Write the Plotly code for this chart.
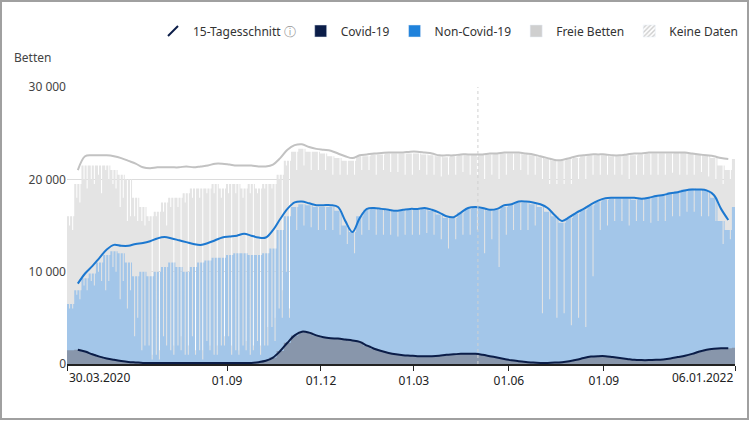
import plotly.graph_objects as go
import pandas as pd

# weekly readings (thousands of beds), week 0 starts 30.03.2020
covid_w = [1.5, 1.55, 1.35, 1.05, 0.8, 0.6, 0.45, 0.32, 0.22, 0.17,
           0.12, 0.1, 0.1, 0.1, 0.1, 0.1, 0.1, 0.1, 0.1, 0.1,
           0.1, 0.1, 0.1, 0.1, 0.1, 0.12, 0.2, 0.35, 0.7, 1.4,
           2.3, 3.1, 3.5, 3.4, 3.1, 2.9, 2.8, 2.75, 2.65, 2.55,
           2.4, 2.0, 1.65, 1.4, 1.2, 1.05, 0.95, 0.9, 0.85, 0.85,
           0.85, 0.9, 1.0, 1.05, 1.1, 1.1, 1.1, 1.0, 0.85, 0.7,
           0.55, 0.4, 0.3, 0.22, 0.15, 0.12, 0.12, 0.15, 0.2, 0.3,
           0.45, 0.65, 0.8, 0.85, 0.85, 0.75, 0.65, 0.55, 0.45, 0.42,
           0.42, 0.45, 0.5, 0.6, 0.75, 0.9, 1.1, 1.35, 1.55, 1.65,
           1.7, 1.7, 1.75]
# occupied beds (Covid + Non-Covid), typical day and weekly low day
occ_w = [6.5, 8.0, 9.3, 9.8, 11.0, 11.8, 12.2, 12.0, 11.0, 9.5,
         10.0, 9.5, 10.0, 10.5, 11.0, 10.5, 10.0, 10.5, 11.0, 11.2,
         11.5, 11.5, 11.8, 12.0, 12.0, 11.8, 11.8, 12.0, 12.5, 14.5,
         16.0, 17.0, 17.3, 17.2, 17.0, 17.0, 17.0, 16.6, 15.0, 14.3,
         16.0, 16.7, 16.8, 16.7, 16.6, 16.5, 16.6, 16.7, 16.7, 16.8,
         16.6, 16.2, 15.8, 15.8, 16.4, 16.8, 17.0, 16.8, 16.6, 16.7,
         17.0, 17.3, 17.5, 17.5, 17.3, 17.0, 16.5, 16.0, 15.3, 15.8,
         16.3, 16.7, 17.2, 17.6, 17.8, 17.9, 17.9, 17.9, 17.8, 17.9,
         18.0, 18.2, 18.3, 18.6, 18.7, 18.9, 19.0, 18.9, 18.8, 18.0,
         15.5, 14.5, 17.0]
occ_low = [6.0, 7.0, 8.0, 8.5, 9.0, 9.0, 10.0, 9.0, 8.0, 5.0,
           2.0, 0.5, 0.5, 2.0, 1.0, 1.5, 1.0, 1.0, 0.5, 1.5,
           1.0, 2.0, 1.0, 1.0, 1.5, 1.5, 1.0, 2.0, 2.5, 5.0,
           5.0, 14.5, 15.0, 14.8, 14.5, 14.5, 14.5, 14.0, 13.0, 12.0,
           14.0, 14.5, 14.0, 14.0, 14.0, 13.8, 14.0, 14.0, 14.0, 14.2,
           14.0, 13.5, 12.5, 13.5, 14.0, 14.0, 14.5, 12.0, 13.5, 10.5,
           14.0, 14.5, 14.5, 14.5, 15.0, 5.5, 7.0, 5.0, 5.5, 4.2,
           5.0, 4.0, 9.5, 14.5, 15.0, 15.5, 15.5, 15.0, 15.5, 15.5,
           15.3, 15.5, 15.5, 16.0, 16.0, 16.5, 16.5, 16.0, 16.0, 15.5,
           13.0, 13.5, 15.0]
# all beds (occupied + free), typical day and weekly low day
tot_w = [16.0, 19.5, 21.5, 21.5, 21.5, 21.5, 21.0, 20.5, 20.0, 18.0,
         17.0, 16.0, 16.5, 17.5, 18.0, 18.0, 18.5, 19.0, 19.0, 19.0,
         19.5, 19.0, 19.5, 19.5, 19.0, 19.5, 19.0, 19.5, 19.5, 20.5,
         22.0, 23.0, 23.3, 23.0, 23.0, 22.8, 22.5, 22.3, 22.0, 22.0,
         22.5, 22.5, 22.7, 22.7, 22.8, 22.8, 22.8, 22.8, 22.8, 22.7,
         22.6, 22.5, 22.4, 22.5, 22.6, 22.6, 22.7, 22.7, 22.7, 22.8,
         22.8, 22.8, 22.8, 22.7, 22.6, 22.4, 22.2, 22.0, 22.0, 22.2,
         22.3, 22.5, 22.6, 22.6, 22.6, 22.5, 22.5, 22.6, 22.6, 22.7,
         22.8, 22.8, 22.8, 22.8, 22.9, 22.9, 22.8, 22.7, 22.6, 22.3,
         21.5, 21.0, 22.2]
tot_low = [14.5, 17.5, 19.0, 19.5, 18.5, 20.0, 19.0, 18.0, 16.0, 15.5,
           15.0, 1.0, 1.5, 15.0, 2.0, 3.0, 2.0, 1.5, 1.5, 2.0,
           2.0, 3.0, 2.0, 1.5, 2.5, 2.0, 2.0, 4.0, 5.0, 8.0,
           6.0, 21.0, 21.5, 21.0, 21.0, 21.0, 20.5, 20.5, 20.5, 20.5,
           21.0, 21.0, 20.5, 21.0, 20.8, 20.8, 20.5, 20.5, 21.0, 20.5,
           20.5, 20.3, 20.5, 20.5, 20.8, 20.5, 20.5, 20.0, 20.5, 20.0,
           20.5, 21.0, 21.0, 20.5, 20.5, 20.0, 19.5, 19.5, 19.5, 19.5,
           20.0, 20.0, 20.5, 20.5, 20.5, 20.5, 20.5, 20.0, 20.5, 20.5,
           20.5, 20.5, 20.5, 20.7, 20.5, 20.5, 20.5, 20.8, 20.3, 20.0,
           19.5, 20.0, 21.0]
# second low reading per week during 2020 (weeks 0..30)
occ_mid_2020 = [6.0, 7.5, 8.5, 9.0, 10.0, 8.0, 10.5, 7.0, 6.0, 3.0,
                1.5, 2.0, 1.0, 3.0, 1.5, 2.0, 1.0, 3.0, 1.5, 2.5,
                1.0, 2.0, 3.0, 1.5, 2.0, 1.0, 2.5, 2.0, 4.0, 6.0,
                10.0]
tot_mid_2020 = [15.0, 18.0, 20.0, 20.0, 20.5, 21.0, 19.5, 17.0, 15.5, 16.0,
                15.5, 15.5, 16.0, 16.5, 17.0, 17.0, 17.5, 18.0, 18.0, 18.5,
                18.5, 18.0, 18.5, 18.5, 18.0, 18.5, 18.5, 19.0, 19.0, 20.0,
                21.5]

# 15-day averages, weeks 1..91 (mid-week)
covid_avg = covid_w[1:92]
occ_avg = [8.7, 9.8, 10.6, 11.5, 12.4, 12.9, 12.8, 12.8, 13.0, 13.1,
           13.3, 13.6, 13.75, 13.6, 13.4, 13.2, 13.0, 12.9, 13.1, 13.4,
           13.7, 13.8, 13.9, 14.1, 13.9, 13.7, 13.7, 14.5, 15.7, 16.8,
           17.5, 17.6, 17.4, 17.2, 17.2, 17.2, 17.0, 15.5, 14.3, 15.8,
           16.8, 16.9, 16.8, 16.7, 16.6, 16.7, 16.8, 16.8, 16.9, 16.7,
           16.4, 16.0, 15.9, 16.4, 16.9, 17.0, 16.9, 16.7, 16.8, 17.2,
           17.3, 17.6, 17.6, 17.5, 17.3, 16.9, 16.1, 15.5, 15.9, 16.4,
           16.8, 17.3, 17.7, 17.95, 18.0, 18.0, 18.0, 18.0, 17.9, 18.0,
           18.2, 18.3, 18.5, 18.6, 18.8, 18.9, 18.9, 18.8, 18.3, 16.8,
           15.6]
tot_avg = [21.0, 22.5, 22.6, 22.6, 22.6, 22.5, 22.3, 22.0, 21.7, 21.3,
           21.2, 21.3, 21.3, 21.3, 21.3, 21.4, 21.3, 21.4, 21.5, 21.7,
           21.7, 21.6, 21.5, 21.5, 21.5, 21.4, 21.4, 21.6, 22.3, 23.2,
           23.7, 23.8, 23.5, 23.3, 23.2, 23.1, 22.8, 22.5, 22.3, 22.6,
           22.7, 22.8, 22.85, 22.9, 22.9, 22.9, 23.0, 23.0, 22.9, 22.8,
           22.6, 22.6, 22.6, 22.7, 22.7, 22.7, 22.7, 22.8, 22.8, 22.9,
           22.9, 22.9, 22.8, 22.7, 22.5, 22.3, 22.1, 22.1, 22.3, 22.5,
           22.6, 22.7, 22.7, 22.7, 22.6, 22.6, 22.7, 22.8, 22.8, 22.9,
           22.9, 22.9, 22.9, 22.9, 22.9, 22.8, 22.7, 22.6, 22.5, 22.3,
           22.2]

tick_dates = ["2020-09-01", "2020-12-01", "2021-03-01", "2021-06-01", "2021-09-01"]
tick_text = ["01.09", "01.12", "01.03", "01.06", "01.09"]
first_label, last_label = "30.03.2020", "06.01.2022"
hover_date = "2021-05-02"

start = pd.Timestamp("2020-03-30")
n_days = 647
low_day, mid_day = 5, 2

cov_top, occ_top, tot_top = [], [], []
for i in range(n_days):
    k, d = divmod(i, 7)
    occ, tot = occ_w[k], tot_w[k]
    if d == low_day:
        occ, tot = occ_low[k], tot_low[k]
    elif d == mid_day and k < len(occ_mid_2020):
        occ, tot = occ_mid_2020[k], tot_mid_2020[k]
    cov_top.append(min(covid_w[k], occ) * 1000)
    occ_top.append(occ * 1000)
    tot_top.append(max(tot, occ) * 1000)

# day boundaries for step areas (each day drawn as a 1-day column)
edges = [start + pd.Timedelta(days=i) for i in range(n_days + 1)]
avg_x = [start + pd.Timedelta(days=7 * k + 3.5) for k in range(1, 92)]

fig = go.Figure()
for tops, color in [(tot_top, "#e4e4e4"), (occ_top, "#a3c6e9"), (cov_top, "#8896ab")]:
    fig.add_trace(go.Scatter(x=edges, y=tops + tops[-1:], mode="lines", line=dict(width=0, shape="hv"),
                             fill="tozeroy", fillcolor=color, showlegend=False, hoverinfo="skip"))

fig.add_trace(go.Scatter(x=avg_x, y=[v * 1000 for v in tot_avg], mode="lines",
                         line=dict(color="#c2c2c2", width=2, shape="spline"), showlegend=False))
fig.add_trace(go.Scatter(x=avg_x, y=[v * 1000 for v in occ_avg], mode="lines",
                         line=dict(color="#1c78d0", width=2, shape="spline"), showlegend=False))
fig.add_trace(go.Scatter(x=avg_x, y=[v * 1000 for v in covid_avg], mode="lines",
                         line=dict(color="#0b1d48", width=2, shape="spline"), showlegend=False))

# legend entries
fig.add_trace(go.Scatter(x=[None], y=[None], mode="markers",
                         marker=dict(symbol="line-ne", size=10, line=dict(color="#0b1d48", width=2)),
                         name="15-Tagesschnitt <span style='color:#9a9a9a'>ⓘ</span>"))
fig.add_trace(go.Bar(x=[None], y=[None], marker_color="#0b1d48", name="Covid-19"))
fig.add_trace(go.Bar(x=[None], y=[None], marker_color="#1f82db", name="Non-Covid-19"))
fig.add_trace(go.Bar(x=[None], y=[None], marker_color="#cfcfcf", name="Freie Betten"))
fig.add_trace(go.Bar(x=[None], y=[None], name="Keine Daten",
                     marker=dict(color="white", pattern=dict(shape="/", fgcolor="#999999", size=4, solidity=0.45))))

W, H = 750, 421
ml, mr, mt, mb = 67, 15, 87, 57
pw, ph = W - ml - mr, H - mt - mb

fig.add_shape(type="line", xref="x", yref="y", x0=hover_date, x1=hover_date, y0=0, y1=30000,
              line=dict(color="#d0d0d0", width=1, dash="dot"))
fig.add_shape(type="rect", xref="paper", yref="paper",
              x0=(1 - ml) / pw, x1=(W - 2 - ml) / pw,
              y0=-(H - 2 - mt - ph) / ph, y1=(H - 1 - mb) / ph,
              line=dict(color="#a0a0a0", width=2))
fig.add_annotation(text="Betten", xref="paper", yref="paper", x=(12 - ml) / pw, y=(H - mb - 57) / ph,
                   xanchor="left", yanchor="middle", showarrow=False,
                   font=dict(size=12, color="#444"))
for label, ax, anchor in [(first_label, 0, "left"), (last_label, 1, "right")]:
    fig.add_annotation(text=label, xref="paper", yref="paper", x=ax, y=-13 / ph,
                       xanchor=anchor, yanchor="middle", showarrow=False,
                       font=dict(size=12, color="#222"))

fig.update_layout(
    width=W, height=H,
    margin=dict(l=ml, r=mr, t=mt, b=mb, autoexpand=False),
    paper_bgcolor="white", plot_bgcolor="white",
    separators=". ",
    font=dict(family="Noto Sans", size=12, color="#333"),
    legend=dict(orientation="h", x=1 + 8 / pw, xanchor="right", y=(H - mb - 31) / ph, yanchor="middle",
                font=dict(size=12, color="#333"), itemwidth=30, traceorder="normal"),
    xaxis=dict(range=[start, start + pd.Timedelta(days=n_days)],
               tickvals=[start.strftime("%Y-%m-%d")] + tick_dates + [edges[-1].strftime("%Y-%m-%d")],
               ticktext=[""] + tick_text + [""],
               showgrid=False, showline=True, linecolor="#222", linewidth=1.5,
               ticks="outside", ticklen=5, tickcolor="#222", tickfont=dict(size=12, color="#222")),
    yaxis=dict(range=[0, 30000], tickvals=[0, 10000, 20000, 30000], tickformat=",d",
               showgrid=True, gridcolor="#dcdcdc", gridwidth=1, zeroline=False,
               tickfont=dict(size=12, color="#444")),
)

fig.write_html("out.html", config={"displayModeBar": False},
               post_script="document.body.style.margin='0';")
